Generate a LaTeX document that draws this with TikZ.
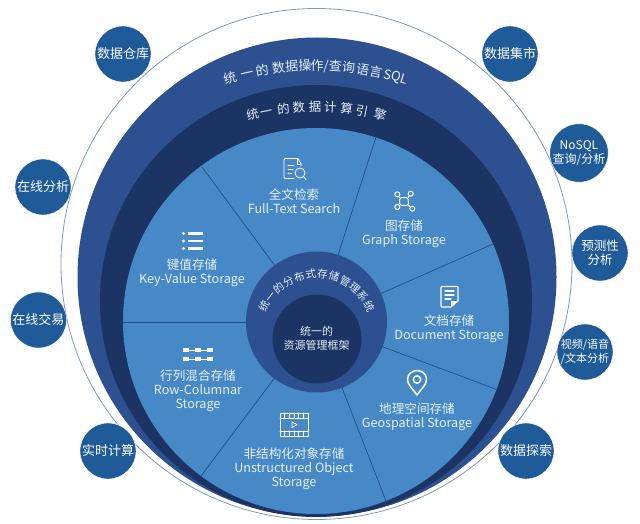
\documentclass[tikz,border=0pt]{standalone}
\usepackage{fontspec}
\setmainfont{Noto Sans CJK SC}
\definecolor{cOuter}{HTML}{7F97C4}
\definecolor{cBlue}{HTML}{2C5090}
\definecolor{cNavy}{HTML}{1B3464}
\definecolor{cLight}{HTML}{4689C6}
\definecolor{cLine}{HTML}{1F4E86}
\definecolor{cSat}{HTML}{1F5A99}
\definecolor{cPale}{HTML}{E6F0F8}
\tikzset{
  sat/.style={circle,fill=cSat,draw=white,line width=0.4pt,minimum size=56pt,inner sep=0pt,align=center,text=white,font=\fontsize{13}{14.5}\selectfont},
  sect/.style={align=center,text=cPale,inner sep=0pt,font=\fontsize{12.6}{14.2}\selectfont},
  divider/.style={draw=cLine,line width=0.7pt},
  icon/.style={draw=white,line width=1pt,line join=round,line cap=round},
  arcchar/.style={text=cPale,inner sep=0pt,anchor=base}
}
\begin{document}
\begin{tikzpicture}[x=1pt,y=-1pt]
\useasboundingbox (0,0) rectangle (640,524);
% rings
\draw[cOuter,line width=0.8pt] (316.5,264) circle[radius=255.5pt];
\fill[cBlue] (317,277) circle[radius=239.5pt];
\fill[cNavy] (316,301) circle[radius=216pt];
\fill[cLight] (316,321) circle[radius=193pt];
% dividers
\coordinate (hub) at (316.5,322);
\coordinate (e1) at (202,167);
\coordinate (e2) at (376,137);
\coordinate (e3) at (493,244);
\coordinate (e4) at (498,390);
\coordinate (e5) at (386,501);
\coordinate (e6) at (201,476);
\coordinate (e7) at (123,322);
\foreach \e in {e1,e2,e3,e4,e5,e6,e7} \draw[divider] (hub) -- (\e);
\fill[cBlue] (hub) circle[radius=70.5pt];
\fill[cNavy] (317,339) circle[radius=44.5pt];
% curved labels
\foreach \c/\xx [count=\i] in {统/232,一/248,的/263,数/279,据/292,操/305,作/317,{/}/326,查/335,询/348,语/362,言/375,S/386.5,Q/395,L/403}{
  \pgfmathsetmacro\aa{asin((\xx-316)/300)}
  \node[arcchar,font=\fontsize{13}{13}\selectfont,rotate=-\aa] (opa\i) at ({316+300*sin(\aa)},{370.5-300*cos(\aa)}) {\c};
}
\foreach \c/\xx [count=\i] in {统/254,一/267,的/284,数/299,据/315,计/330,算/346,引/361,擎/379}{
  \pgfmathsetmacro\aa{asin((\xx-316)/236)}
  \node[arcchar,font=\fontsize{12.5}{13}\selectfont,rotate=-\aa] (cmp\i) at ({316+236*sin(\aa)},{347-236*cos(\aa)}) {\c};
}
\foreach \c [count=\i] in {统,一,的,分,布,式,存,储,管,理,系,统}{
  \pgfmathsetmacro\aa{-63.25+11.5*(\i-1)}
  \node[arcchar,font=\fontsize{10.6}{11}\selectfont,rotate=-\aa] (sto\i) at ({316.7+55*sin(\aa)},{333-55*cos(\aa)}) {\c};
}
\node[align=center,text=cPale,inner sep=0pt,font=\fontsize{11}{14.3}\selectfont] (res) at (316.7,338) {统一的\\资源管理框架};
% sector labels
\node[sect] (s1) at (294,201) {全文检索\\Full-Text Search};
\node[sect] (s2) at (192,272.5) {键值存储\\Key-Value Storage};
\node[sect] (s3) at (404,233.5) {图存储\\Graph Storage};
\node[sect] (s4) at (449,328.5) {文档存储\\Document Storage};
\node[sect] (s5) at (417,417) {地理空间存储\\Geospatial Storage};
\node[sect] (s6) at (198,391) {行列混合存储\\Row-Columnar\\Storage};
\node[sect] (s7) at (294,469) {非结构化对象存储\\Unstructured Object\\Storage};
% icon: full text search
\begin{scope}[icon,line width=0.8pt,shift={(283,158)}]
  \draw (15,0.5) -- (2,0.5) -- (1,1.5) -- (1,19.5) -- (2,20.5) -- (11,20.5);
  \draw (15,0.5) -- (18,6) -- (18,8);
  \draw (14,0.5) -- (14,6) -- (18,6);
  \draw (5,7) -- (11,7) (5,11) -- (10,11) (5,15) -- (9,15);
  \draw (17,15) circle[radius=5pt];
  \draw (20.5,18.5) -- (23,21.5);
\end{scope}
% icon: list
\begin{scope}[shift={(182,232)}]
  \foreach \yy in {0,7.5,15}{
    \fill[white] (1.5,\yy+1.5) circle[radius=1.6pt];
    \fill[white] (6,\yy) rectangle (21,\yy+2.8);
  }
\end{scope}
% icon: graph
\begin{scope}[icon,shift={(394,191)}]
  \draw[rounded corners=1.5pt] (5.7,6.7) -- (14,6.7) -- (14.5,14.3) -- (5.7,14.3) -- cycle;
  \draw (3.3,3.3) -- (5.7,6.7) (16.7,2.7) -- (14,6.7) (3.3,16) -- (5.7,14.3) (18.3,17.7) -- (14.5,14.3);
  \foreach \px/\py in {3.3/3.3,16.7/2.7,3.3/16,18.3/17.7}
    \filldraw[fill=cLight] (\px,\py) circle[radius=2.5pt];
\end{scope}
% icon: document
\begin{scope}[icon,line width=1.1pt,shift={(440,286)}]
  \draw (11,21) -- (2,21) -- (1,20) -- (1,1) -- (2,0.5) -- (17,0.5) -- (18,1) -- (18,15) -- cycle;
  \fill[white] (11,21) -- (18,15) -- (11,15) -- cycle;
  \draw (5,5) -- (14,5) (5,9) -- (14,9) (5,13) -- (11,13);
\end{scope}
% icon: pin
\begin{scope}[icon,line width=1.5pt,shift={(417,380)}]
  \draw (0,15) .. controls (-4,9) and (-9.5,5) .. (-9.5,-0.5) .. controls (-9.5,-6) and (-5,-9.5) .. (0,-9.5) .. controls (5,-9.5) and (9.5,-6) .. (9.5,-0.5) .. controls (9.5,5) and (4,9) .. cycle;
  \draw (0,-0.5) circle[radius=3.7pt];
\end{scope}
% icon: film
\begin{scope}[icon,line width=0.8pt,shift={(280,413)}]
  \draw (0,0) rectangle (28,23.5);
  \draw (0,5.5) -- (28,5.5) (0,18) -- (28,18);
  \foreach \tx in {4.7,9.3,14,18.7,23.3} \draw (\tx,0) -- (\tx,5.5) (\tx,18) -- (\tx,23.5);
  \draw (12,9) -- (17,11.7) -- (12,14.5) -- cycle;
\end{scope}
% icon: row-columnar
\begin{scope}[shift={(183,348)}]
  \foreach \yy in {0,9}{
    \draw[white,line width=0.8pt] (0,\yy+2) -- (30,\yy+2);
    \foreach \tx in {0,12,24} \fill[white] (\tx,\yy) rectangle (\tx+6,\yy+4);
  }
\end{scope}
% satellites
\node[sat] (a1) at (123,54) {数据仓库};
\node[sat] (a2) at (43,187) {在线分析};
\node[sat] (a3) at (38.5,320) {在线交易};
\node[sat] (a4) at (108,451) {实时计算};
\node[sat] (b1) at (510,54) {数据集市};
\node[sat,font=\fontsize{12}{14.5}\selectfont] (b2) at (579,153) {NoSQL\\查询/分析};
\node[sat,font=\fontsize{12.5}{14.5}\selectfont] (b3) at (600,253) {预测性\\分析};
\node[sat,font=\fontsize{11}{14.5}\selectfont] (b4) at (585,352) {视频/语音\\/文本分析};
\node[sat] (b5) at (526,451) {数据探索};
\end{tikzpicture}
\end{document}
